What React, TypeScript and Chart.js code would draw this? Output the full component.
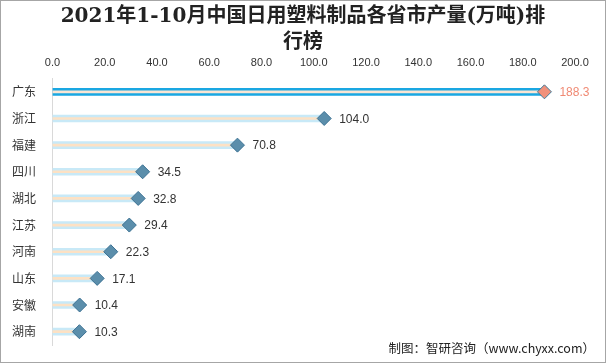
import React, { useEffect, useRef } from "react";
import { Chart, registerables } from "chart.js";

Chart.register(...registerables);

const categories = ["广东", "浙江", "福建", "四川", "湖北", "江苏", "河南", "山东", "安徽", "湖南"];
const values = [188.3, 104.0, 70.8, 34.5, 32.8, 29.4, 22.3, 17.1, 10.4, 10.3];
const titleLines = ["2021年1-10月中国日用塑料制品各省市产量(万吨)排", "行榜"];
const footerText = "制图：智研咨询（www.chyxx.com）";

const bandColors = values.map((_, i) => (i === 0 ? "#1aa7e2" : "#c8e9f7"));
const lineColors = values.map((_, i) => (i === 0 ? "#fbe6d4" : "#fde1c4"));
const pointFill = values.map((_, i) => (i === 0 ? "#f0917b" : "#5b8eab"));
const pointBorder = values.map((_, i) => (i === 0 ? "#3f7c9b" : "#3b7193"));
const labelColors = values.map((_, i) => (i === 0 ? "#f08a74" : "#333333"));

export default function App() {
  const ref = useRef<HTMLCanvasElement | null>(null);
  useEffect(() => {
    document.body.style.margin = "0";
    const canvas = ref.current!;
    const overlay = {
      id: "overlay",
      afterDraw(chart: any) {
        const ctx = chart.ctx;
        ctx.save();
        ctx.fillStyle = "#222";
        ctx.font = "bold 20px 'DejaVu Serif', 'Liberation Serif', 'Noto Sans CJK SC', serif";
        ctx.textAlign = "center";
        ctx.textBaseline = "middle";
        ctx.fillText(titleLines[0], 302, 16);
        ctx.fillText(titleLines[1], 302, 42);
        const meta = chart.getDatasetMeta(0);
        ctx.font = "12px 'Liberation Sans', Arial, sans-serif";
        ctx.textAlign = "left";
        meta.data.forEach((pt: any, i: number) => {
          ctx.fillStyle = labelColors[i];
          ctx.fillText(values[i].toFixed(1), pt.x + 15, pt.y + 1);
        });
        ctx.fillStyle = "#222";
        ctx.font = "12.5px 'Noto Sans CJK SC', sans-serif";
        ctx.textAlign = "right";
        ctx.fillText(footerText, 594, 347);
        ctx.restore();
      },
    };
    const chart = new Chart(canvas, {
      type: "bar",
      data: {
        labels: categories,
        datasets: [
          {
            type: "line",
            data: values,
            showLine: false,
            pointStyle: "rectRot",
            pointRadius: 7,
            pointHoverRadius: 7,
            pointBackgroundColor: pointFill,
            pointBorderColor: pointBorder,
            pointBorderWidth: 1,
            order: 0,
          } as any,
          {
            data: values,
            backgroundColor: lineColors,
            barThickness: 2,
            grouped: false,
            order: 1,
          },
          {
            data: values,
            backgroundColor: bandColors,
            barThickness: 7,
            grouped: false,
            order: 2,
          },
        ],
      },
      options: {
        indexAxis: "y",
        animation: false,
        responsive: false,
        layout: { padding: { left: 11, right: 30, top: 52, bottom: 17 } },
        plugins: { legend: { display: false }, tooltip: { enabled: false } },
        scales: {
          x: {
            position: "top",
            min: 0,
            max: 200,
            ticks: {
              stepSize: 20,
              callback: (v: any) => Number(v).toFixed(1),
              color: "#333",
              font: { size: 11, family: "'Liberation Sans', Arial, sans-serif" },
              padding: 9,
            },
            grid: { display: false, drawTicks: false },
            border: { display: false },
            afterFit: (s: any) => {
              s.height = 25.5;
            },
          },
          y: {
            ticks: {
              color: "#333",
              font: { size: 12, family: "'Noto Sans CJK SC', sans-serif" },
              crossAlign: "far",
              padding: 4,
            },
            grid: { display: false, drawTicks: false },
            border: { display: true, color: "#d9d9d9", width: 1 },
            afterFit: (s: any) => {
              s.width = 40.5;
            },
          },
        },
      },
      plugins: [overlay],
    });
    return () => chart.destroy();
  }, []);
  return (
    <div
      style={{
        position: "absolute",
        left: 0,
        top: 0,
        width: 606,
        height: 363,
        border: "1px solid #a6a6a6",
        boxSizing: "border-box",
        background: "#fff",
      }}
    >
      <canvas ref={ref} width={604} height={361} style={{ display: "block" }} />
    </div>
  );
}
